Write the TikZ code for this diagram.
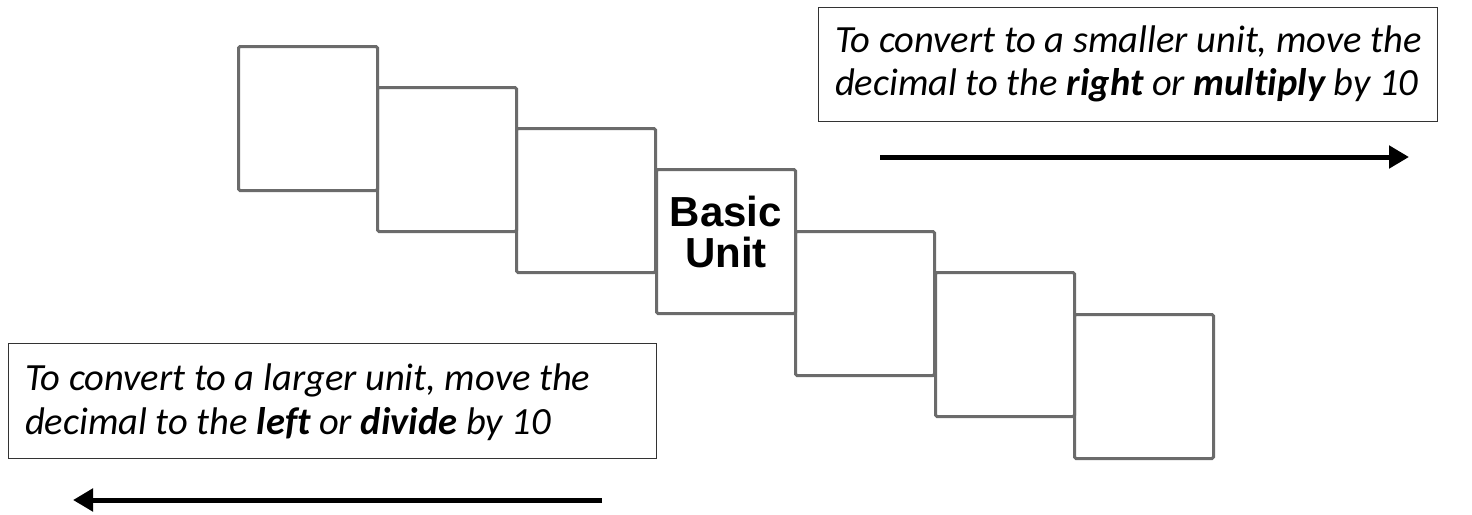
\documentclass[tikz,border=0pt]{standalone}
\usepackage{fontspec}
\setmainfont[Ligatures=NoCommon]{Carlito}
\newfontfamily\arialfont{Liberation Sans}
\usetikzlibrary{arrows.meta}
\begin{document}
\begin{tikzpicture}[x=1pt,y=-1pt,
  unitbox/.style={draw=black!58, line width=3pt, rounded corners=1.5pt, minimum width=139pt, minimum height=144pt, inner sep=0pt, anchor=north west},
  notebox/.style={draw=black!80, line width=1.4pt, inner sep=0pt, anchor=north west},
  notetext/.style={anchor=west, align=left, font=\fontsize{38.5}{43.5}\selectfont\itshape, inner sep=0pt},
  bigarrow/.style={line width=5pt, -{Triangle[length=20pt,width=22pt]}}
]
\useasboundingbox (0,0) rectangle (1472,514);
% staircase of unit boxes
\node[unitbox] (b1) at (237,45) {};
\node[unitbox] (b2) at (376,86) {};
\node[unitbox] (b3) at (515,127) {};
\node[unitbox] (b4) at (655,168) {};
\node[font=\arialfont\bfseries\fontsize{42}{41}\selectfont, align=center, inner sep=0pt] (basic) at ([yshift=10pt]b4.center) {Basic\\Unit};
\node[unitbox] (b5) at (794,230) {};
\node[unitbox] (b6) at (934,271) {};
\node[unitbox] (b7) at (1073,313) {};
% note boxes
\node[notebox, minimum width=619pt, minimum height=114pt] (topbox) at (818,7) {};
\node[notetext] (toptext) at ([xshift=17pt,yshift=1pt]topbox.west) {To convert to a smaller unit, move the\\decimal to the \textbf{right} or \textbf{multiply} by 10};
\node[notebox, minimum width=648pt, minimum height=115pt] (botbox) at (8,343) {};
\node[notetext] (bottext) at ([xshift=17pt,yshift=-1pt]botbox.west) {To convert to a larger unit, move the\\decimal to the \textbf{left} or \textbf{divide} by 10};
% arrows
\coordinate (ta) at (880,157);
\coordinate (tb) at (1409,157);
\coordinate (ba) at (602,500);
\coordinate (bb) at (73,500);
\draw[bigarrow] (ta) -- (tb);
\draw[bigarrow] (ba) -- (bb);
\end{tikzpicture}
\end{document}
